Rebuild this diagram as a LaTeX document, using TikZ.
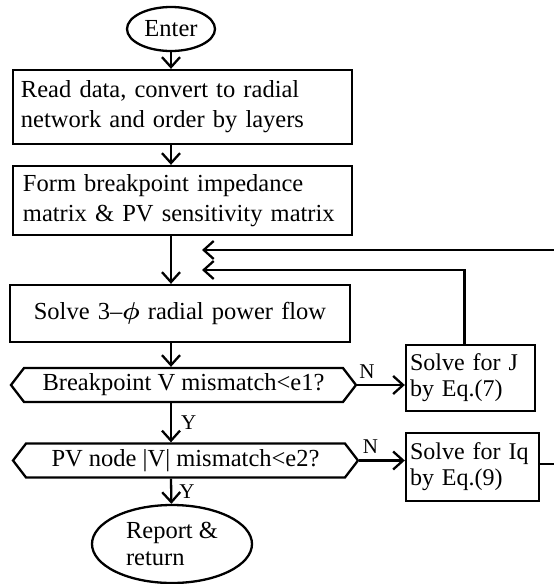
\RequirePackage{fix-cm}
\documentclass[tikz,border=0pt]{standalone}
\usepackage{fontspec}
\setmainfont{Liberation Serif}
\usetikzlibrary{shapes.geometric,shapes.symbols,arrows.meta}

\begin{document}
\begin{tikzpicture}[-,>={Straight Barb[length=10pt,width=18pt]},line width=2.3pt,node distance=80pt,
    main node/.style={ellipse,draw,inner sep=0pt,align=left,font=\fontsize{24.5}{27}\selectfont},
    block node/.style={rectangle,draw,text width=323pt,inner xsep=8pt,align=left,font=\fontsize{24.5}{30}\selectfont},
    test node/.style={signal,draw,signal to=west and east,signal pointer angle=105,minimum width=345pt,minimum height=34pt,inner sep=0pt,font=\fontsize{24.5}{30}\selectfont},
    side node/.style={rectangle,draw,text width=121pt,inner xsep=4pt,align=left,font=\fontsize{24}{26}\selectfont},
    label node/.style={inner sep=2pt,font=\fontsize{21}{21}\selectfont}]
            \useasboundingbox (-171pt,29pt) rectangle (383pt,-555pt);

            \node[main node, minimum width=88pt, minimum height=44pt] (enter) {Enter};
            \node[block node, minimum height=74pt] (read) [below of = enter, xshift=11.5pt, yshift=2pt]
                {Read data, convert to radial\\network and order by layers};
            \node[block node, minimum height=69pt, text width=319pt, inner xsep=10pt] (form) [below of = read, yshift=-13.5pt]
                {Form breakpoint impedance\\matrix \& PV sensitivity matrix};
            \node[block node, minimum height=57pt, text width=324pt, align=center] (solve) [below of = form, xshift=-2.5pt, yshift=-33pt]
                {Solve 3--{\boldmath$\phi$} radial power flow};
            \node[test node] (bv) [below of = solve, xshift=3.5pt, yshift=8.5pt] {Breakpoint V mismatch<e1?};
            \node[test node] (pvn) [below of = bv, xshift=2pt, yshift=4.5pt] {PV node |V| mismatch<e2?};
            \node[main node, minimum width=160pt, minimum height=78pt] (report) [below of = pvn, xshift=-13.5pt, yshift=-3.5pt]
                {Report \&\\return};
            \node[side node, minimum height=66pt] (solvej) [right of = bv, xshift=207pt, yshift=7pt]
                {Solve for J\\by Eq.(7)};
            \node[side node, minimum height=68pt, text width=125pt] (solveiq) [right of = pvn, xshift=207pt, yshift=-6.5pt]
                {Solve for Iq\\by Eq.(9)};

            % loop back ends
            \coordinate (loopa) at (31pt,-221pt);
            \coordinate (loopb) at (31pt,-241pt);
            \coordinate (edgea) at (383pt,-221pt);

            \draw[->] (enter) -- (enter |- read.north);
            \draw[->] (read.south -| enter) -- (form.north -| enter);
            \draw[->] (form.south -| enter) -- (solve.north -| enter);
            \draw[->] (solve.south -| enter) -- (bv.north -| enter);
            \draw[->] (bv.south -| enter) -- node[label node, right, xshift=7pt] {Y} (pvn.north -| enter);
            \draw[->] (pvn.south -| enter) -- node[label node, right, xshift=5pt] {Y} (report);
            \draw[->] (bv.east) -- node[label node, above, pos=0.2, yshift=3pt] {N} (bv.east -| solvej.west);
            \draw[->] (pvn.east) -- node[label node, above, pos=0.24, yshift=3.5pt] {N} (pvn.east -| solveiq.west);
            \draw[->] (edgea) -- (loopa);
            \draw[->] ([xshift=-6pt]solvej.north) |- (loopb);
            \draw ([yshift=3pt]solveiq.east) -- ([yshift=3pt]solveiq.east -| edgea);
\end{tikzpicture}
\end{document}
